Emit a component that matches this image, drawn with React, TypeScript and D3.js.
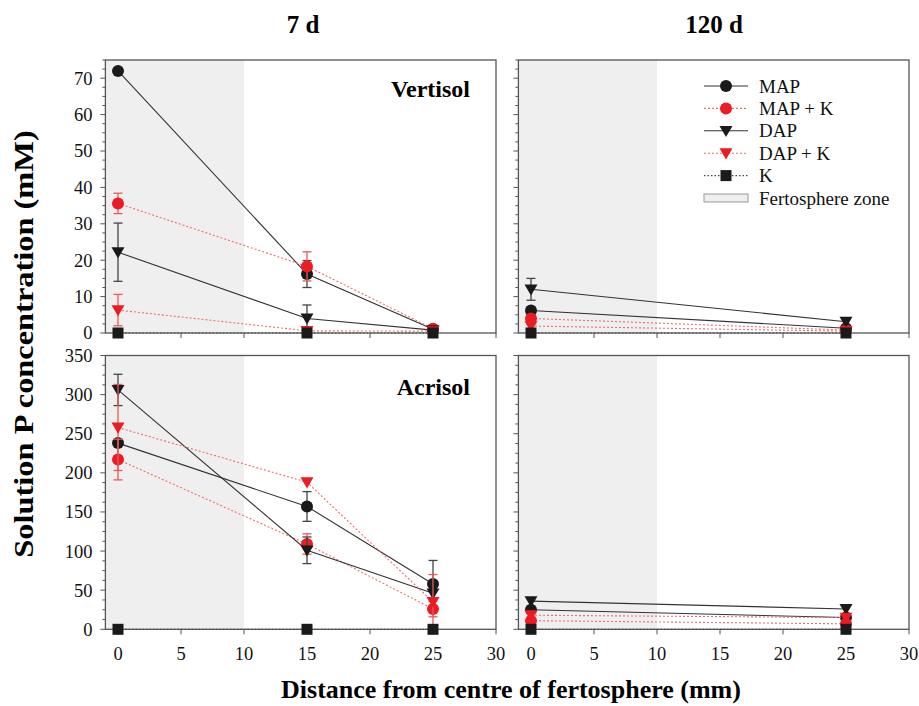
import React from "react";
import * as d3 from "d3";

// ---- data ----
const seriesNames = ["MAP", "MAP + K", "DAP", "DAP + K", "K"];
const xTicks = [0, 5, 10, 15, 20, 25, 30];
const yTicksTop = [0, 10, 20, 30, 40, 50, 60, 70];
const yTicksBottom = [0, 50, 100, 150, 200, 250, 300, 350];
const columnTitles = ["7 d", "120 d"];
const soilNames = ["Vertisol", "Acrisol"];

const xDays7 = [0, 15, 25];
const xDays120 = [0, 25];

// Vertisol 7 d: values and error (±)
const vert7MAP = [72, 16.2, 1.0];
const vert7MAPerr = [0, 3.7, 0];
const vert7MAPK = [35.6, 18.3, 1.2];
const vert7MAPKerr = [2.8, 4.0, 0];
const vert7DAP = [22.2, 4.0, 0.8];
const vert7DAPerr = [8.0, 3.7, 0];
const vert7DAPK = [6.3, 0.6, 0.5];
const vert7DAPKerr = [4.3, 0, 0];
const vert7K = [0, 0, 0];

// Vertisol 120 d
const vert120MAP = [6.2, 1.3];
const vert120MAPK = [4.0, 0.8];
const vert120DAP = [12.0, 3.1];
const vert120DAPerr = [3.0, 0];
const vert120DAPK = [1.9, 0.5];
const vert120K = [0, 0];

// Acrisol 7 d
const acri7MAP = [238, 157, 58];
const acri7MAPerr = [0, 19, 30];
const acri7MAPK = [217, 109, 26];
const acri7MAPKerr = [26, 13, 10];
const acri7DAP = [306, 101, 46];
const acri7DAPerr = [20, 17, 0];
const acri7DAPK = [258, 188, 35];
const acri7DAPKerr = [55, 0, 35];
const acri7K = [0, 0, 0];

// Acrisol 120 d
const acri120MAP = [25, 15];
const acri120MAPK = [11, 7];
const acri120DAP = [36, 26];
const acri120DAPK = [18, 15];
const acri120K = [0, 0];

const fertosphereEnd = 10;

type Series = { name: string; x: number[]; y: number[]; err?: number[] };

const panelSeries: Series[][] = [
  [
    { name: "MAP", x: xDays7, y: vert7MAP, err: vert7MAPerr },
    { name: "MAP + K", x: xDays7, y: vert7MAPK, err: vert7MAPKerr },
    { name: "DAP", x: xDays7, y: vert7DAP, err: vert7DAPerr },
    { name: "DAP + K", x: xDays7, y: vert7DAPK, err: vert7DAPKerr },
    { name: "K", x: xDays7, y: vert7K },
  ],
  [
    { name: "MAP", x: xDays120, y: vert120MAP },
    { name: "MAP + K", x: xDays120, y: vert120MAPK },
    { name: "DAP", x: xDays120, y: vert120DAP, err: vert120DAPerr },
    { name: "DAP + K", x: xDays120, y: vert120DAPK },
    { name: "K", x: xDays120, y: vert120K },
  ],
  [
    { name: "MAP", x: xDays7, y: acri7MAP, err: acri7MAPerr },
    { name: "MAP + K", x: xDays7, y: acri7MAPK, err: acri7MAPKerr },
    { name: "DAP", x: xDays7, y: acri7DAP, err: acri7DAPerr },
    { name: "DAP + K", x: xDays7, y: acri7DAPK, err: acri7DAPKerr },
    { name: "K", x: xDays7, y: acri7K },
  ],
  [
    { name: "MAP", x: xDays120, y: acri120MAP },
    { name: "MAP + K", x: xDays120, y: acri120MAPK },
    { name: "DAP", x: xDays120, y: acri120DAP },
    { name: "DAP + K", x: xDays120, y: acri120DAPK },
    { name: "K", x: xDays120, y: acri120K },
  ],
];

const RED = "#ec1c24";
const BLACK = "#1a1a1a";
const AXIS = "#555";

const styleOf: Record<string, { color: string; line: string; dash?: string; shape: string; errColor: string }> = {
  MAP: { color: BLACK, line: "#333", shape: "circle", errColor: "#444" },
  "MAP + K": { color: RED, line: "#f36b6b", dash: "2,2", shape: "circle", errColor: "#e85a5a" },
  DAP: { color: BLACK, line: "#333", shape: "tri", errColor: "#444" },
  "DAP + K": { color: RED, line: "#f36b6b", dash: "2,2", shape: "tri", errColor: "#e85a5a" },
  K: { color: BLACK, line: "#444", dash: "1.5,2", shape: "square", errColor: "#444" },
};

const FONT = "'Liberation Serif', 'Times New Roman', serif";

function Marker({ shape, cx, cy, color }: { shape: string; cx: number; cy: number; color: string }) {
  if (shape === "circle") return <circle cx={cx} cy={cy} r={6} fill={color} />;
  if (shape === "tri") {
    const s = 6.5;
    return <path d={`M${cx - s},${cy - s * 0.75} L${cx + s},${cy - s * 0.75} L${cx},${cy + s * 0.95} Z`} fill={color} />;
  }
  return <rect x={cx - 5.5} y={cy - 5.5} width={11} height={11} fill={color} />;
}

function Panel({
  idx,
  x0,
  x1,
  yTop,
  yBottom,
  yMax,
  yTicks,
  minorStep,
  showYLabels,
  showXLabels,
}: any) {
  const xs = d3.scaleLinear().domain([-1, 30]).range([x0, x1]);
  const ys = d3.scaleLinear().domain([0, yMax]).range([yBottom, yTop]);
  const series: Series[] = panelSeries[idx];
  const minorTicks = d3.range(0, yMax + 0.001, minorStep);
  const lineGen = d3
    .line<[number, number]>()
    .x((d) => xs(d[0]))
    .y((d) => ys(d[1]));
  return (
    <g>
      <rect x={xs(-1)} y={yTop} width={xs(fertosphereEnd) - xs(-1)} height={yBottom - yTop} fill="#efefef" />
      {/* frame */}
      <rect x={x0} y={yTop} width={x1 - x0} height={yBottom - yTop} fill="none" stroke={AXIS} strokeWidth={1.3} />
      {/* y ticks */}
      {minorTicks.map((t: number, i: number) => (
        <line key={"m" + i} x1={x0} x2={x0 - (yTicks.includes(t) ? 5 : 3)} y1={ys(t)} y2={ys(t)} stroke={AXIS} strokeWidth={1} />
      ))}
      {showYLabels &&
        yTicks.map((t: number) => (
          <text key={"yl" + t} x={x0 - 13} y={ys(t)} dy="0.35em" textAnchor="end" fontSize={18.5} fontFamily={FONT} fill="#111">
            {t}
          </text>
        ))}
      {/* x ticks */}
      {xTicks.map((t) => (
        <line key={"xt" + t} x1={xs(t)} x2={xs(t)} y1={yBottom} y2={yBottom + 5} stroke={AXIS} strokeWidth={1} />
      ))}
      {showXLabels &&
        xTicks.map((t) => (
          <text key={"xl" + t} x={xs(t)} y={yBottom + 31} textAnchor="middle" fontSize={18.5} fontFamily={FONT} fill="#111">
            {t}
          </text>
        ))}
      {/* series */}
      {series.map((s) => {
        const st = styleOf[s.name];
        const pts: [number, number][] = s.x.map((x, i) => [x, s.y[i]]);
        return (
          <g key={s.name}>
            <path d={lineGen(pts) || ""} fill="none" stroke={st.line} strokeWidth={1.1} strokeDasharray={st.dash} />
            {s.err &&
              s.err.map((e, i) =>
                e > 0 ? (
                  <g key={"e" + i} stroke={st.errColor} strokeWidth={1.3}>
                    <line x1={xs(s.x[i])} x2={xs(s.x[i])} y1={ys(s.y[i] + e)} y2={ys(Math.max(0, s.y[i] - e))} />
                    <line x1={xs(s.x[i]) - 4.5} x2={xs(s.x[i]) + 4.5} y1={ys(s.y[i] + e)} y2={ys(s.y[i] + e)} />
                    <line
                      x1={xs(s.x[i]) - 4.5}
                      x2={xs(s.x[i]) + 4.5}
                      y1={ys(Math.max(0, s.y[i] - e))}
                      y2={ys(Math.max(0, s.y[i] - e))}
                    />
                  </g>
                ) : null
              )}
            {pts.map((p, i) => (
              <Marker key={"p" + i} shape={st.shape} cx={xs(p[0])} cy={ys(p[1])} color={st.color} />
            ))}
          </g>
        );
      })}
    </g>
  );
}

function Legend({ x, y }: { x: number; y: number }) {
  const rowH = 22.4;
  return (
    <g>
      {seriesNames.map((n, i) => {
        const st = styleOf[n];
        const cy = y + i * rowH;
        return (
          <g key={n}>
            <line x1={x} x2={x + 44} y1={cy} y2={cy} stroke={st.line} strokeWidth={1.1} strokeDasharray={st.dash} />
            <Marker shape={st.shape} cx={x + 22} cy={cy} color={st.color} />
            <text x={x + 55} y={cy} dy="0.35em" fontSize={19} fontFamily={FONT} fill="#111">
              {n}
            </text>
          </g>
        );
      })}
      <rect x={x} y={y + 5 * rowH - 4} width={44} height={8} fill="#efefef" stroke="#999" strokeWidth={1} />
      <text x={x + 55} y={y + 5 * rowH} dy="0.35em" fontSize={19} fontFamily={FONT} fill="#111">
        Fertosphere zone
      </text>
    </g>
  );
}

export default function App() {
  const L = [105.4, 496];
  const R = [518.4, 909];
  const T = [60, 333];
  const B = [355.5, 629.3];
  return (
    <svg width={919} height={706} style={{ position: "absolute", left: 0, top: 0, background: "#fff" }}>
      <Panel idx={0} x0={L[0]} x1={L[1]} yTop={T[0]} yBottom={T[1]} yMax={75} yTicks={yTicksTop} minorStep={2.5} showYLabels showXLabels={false} />
      <Panel idx={1} x0={R[0]} x1={R[1]} yTop={T[0]} yBottom={T[1]} yMax={75} yTicks={yTicksTop} minorStep={2.5} showYLabels={false} showXLabels={false} />
      <Panel idx={2} x0={L[0]} x1={L[1]} yTop={B[0]} yBottom={B[1]} yMax={350} yTicks={yTicksBottom} minorStep={12.5} showYLabels showXLabels />
      <Panel idx={3} x0={R[0]} x1={R[1]} yTop={B[0]} yBottom={B[1]} yMax={350} yTicks={yTicksBottom} minorStep={12.5} showYLabels={false} showXLabels />
      <Legend x={704} y={86} />
      <text x={303} y={33} textAnchor="middle" fontSize={25} fontWeight="bold" fontFamily={FONT}>
        {columnTitles[0]}
      </text>
      <text x={714} y={33} textAnchor="middle" fontSize={25} fontWeight="bold" fontFamily={FONT}>
        {columnTitles[1]}
      </text>
      <text x={470} y={97} textAnchor="end" fontSize={24} fontWeight="bold" fontFamily={FONT}>
        {soilNames[0]}
      </text>
      <text x={470} y={395} textAnchor="end" fontSize={24} fontWeight="bold" fontFamily={FONT}>
        {soilNames[1]}
      </text>
      <text
        transform="translate(33,344) rotate(-90) scale(1.2,1)"
        textAnchor="middle"
        fontSize={27}
        fontWeight="bold"
        fontFamily={FONT}
      >
        Solution P concentration (mM)
      </text>
      <text x={511} y={698} textAnchor="middle" fontSize={26} fontWeight="bold" fontFamily={FONT}>
        Distance from centre of fertosphere (mm)
      </text>
    </svg>
  );
}
